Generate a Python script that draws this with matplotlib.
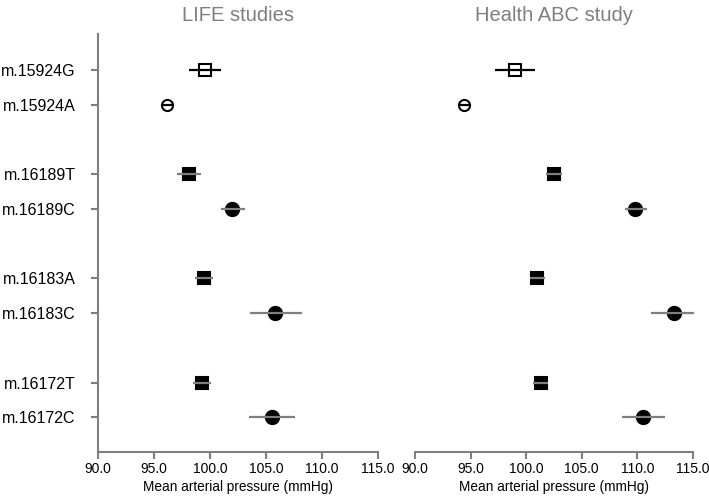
import numpy as np
import matplotlib.pyplot as plt

plt.rcParams['font.family'] = ['Liberation Sans', 'DejaVu Sans']

# data
labels = ['m.15924G', 'm.15924A', 'm.16189T', 'm.16189C',
          'm.16183A', 'm.16183C', 'm.16172T', 'm.16172C']
life_mean = [99.55, 96.2, 98.1, 102.0, 99.5, 105.8, 99.3, 105.5]
life_lo = [98.1, 95.75, 97.05, 101.0, 98.7, 103.6, 98.5, 103.5]
life_hi = [101.0, 96.65, 99.2, 103.1, 100.3, 108.2, 100.1, 107.6]
abc_mean = [99.0, 94.4, 102.5, 109.8, 101.0, 113.3, 101.3, 110.5]
abc_lo = [97.2, 93.95, 101.8, 108.9, 100.3, 111.2, 100.6, 108.6]
abc_hi = [100.8, 94.85, 103.2, 110.9, 101.7, 115.1, 102.0, 112.5]
xticks = [90.0, 95.0, 100.0, 105.0, 110.0, 115.0]
titles = ['LIFE studies', 'Health ABC study']

GRAY = '#7f7f7f'
pos = np.array([0, 1, 3, 4, 6, 7, 9, 10])
markers = ['s', 'o', 's', 'o', 's', 'o', 's', 'o']
filled = [False, False, True, True, True, True, True, True]


def draw_panel(ax, mean, lo, hi, title, show_y):
    for i in range(len(labels)):
        sq = markers[i] == 's'
        ms = 8.6 if sq else 9.5
        if not filled[i]:
            ms = 8.6 if sq else 8.0
        ax.plot(mean[i], pos[i], marker=markers[i], ms=ms,
                mfc='black' if filled[i] else 'white',
                mec='black', mew=1.5, zorder=3, clip_on=False)
        ax.plot([lo[i], hi[i]], [pos[i], pos[i]],
                color=GRAY if filled[i] else 'black', lw=1.6,
                zorder=4, solid_capstyle='butt', clip_on=False)
    ax.set_xlim(90, 115)
    ax.set_ylim(11.0, -1.04)
    ax.set_xticks(xticks)
    ax.set_xticklabels(['%.1f' % t for t in xticks], fontsize=10)
    ax.set_xlabel('Mean arterial pressure (mmHg)', fontsize=9.8, labelpad=3)
    ax.set_title(title, fontsize=14.5, color=GRAY, pad=9)
    for s in ['top', 'right']:
        ax.spines[s].set_visible(False)
    ax.spines['bottom'].set_color(GRAY)
    ax.spines['bottom'].set_linewidth(1.5)
    ax.tick_params(axis='x', direction='out', length=5, width=1.5,
                   color=GRAY, pad=2)
    if show_y:
        ax.spines['left'].set_color(GRAY)
        ax.spines['left'].set_linewidth(1.5)
        ax.set_yticks(pos)
        ax.set_yticklabels(labels, fontsize=11.5)
        ax.tick_params(axis='y', direction='out', length=5, width=1.5,
                       color=GRAY, pad=11)
    else:
        ax.spines['left'].set_visible(False)
        ax.set_yticks([])


fig = plt.figure(figsize=(7.09, 4.96), dpi=100)
W, H = 709.0, 496.0
ax1 = fig.add_axes([98 / W, 1 - 452 / H, 280 / W, 418 / H])
ax2 = fig.add_axes([415 / W, 1 - 452 / H, 278 / W, 418 / H])

draw_panel(ax1, life_mean, life_lo, life_hi, titles[0], True)
draw_panel(ax2, abc_mean, abc_lo, abc_hi, titles[1], False)

fig.savefig('out.png', dpi=100)
